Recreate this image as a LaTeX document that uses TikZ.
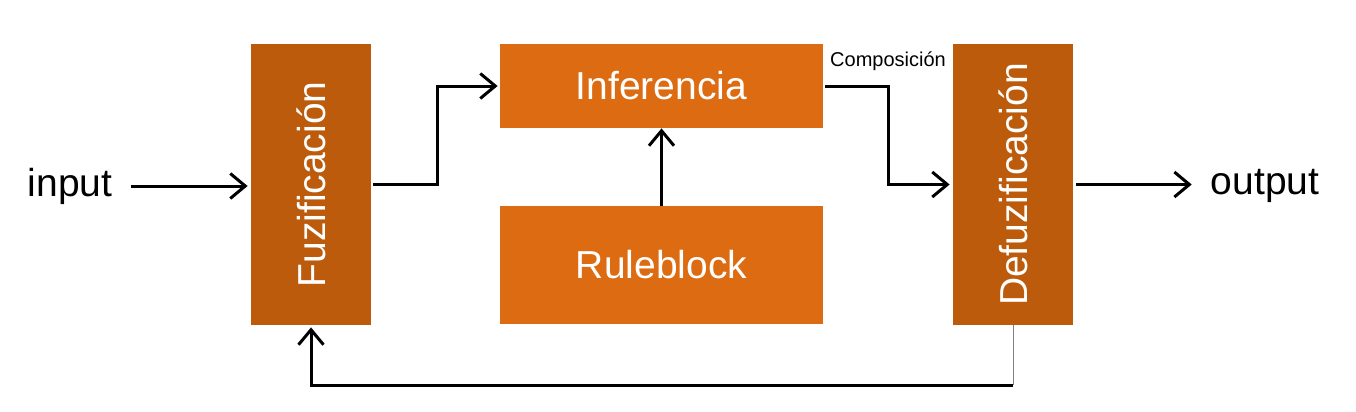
\documentclass[tikz,border=0pt]{standalone}
\usepackage{fontspec}
\setmainfont{Liberation Sans}
\usetikzlibrary{arrows.meta,positioning}
\definecolor{darkorange}{HTML}{BD5B0C}
\definecolor{lightorange}{HTML}{DD6B11}

\begin{document}
\begin{tikzpicture}[x=0.5pt,y=-0.5pt,>={Straight Barb[length=7.5pt,width=12.5pt]},
                    flow/.style={->,line width=1.5pt,black},
                    tallbox/.style={fill=darkorange,text=white,minimum width=60pt,minimum height=140.5pt,inner sep=0pt,font=\fontsize{19.5}{23}\selectfont},
                    widebox/.style={fill=lightorange,text=white,minimum width=161.5pt,inner sep=0pt,font=\fontsize{19.5}{23}\selectfont},
                    plain/.style={font=\fontsize{19.5}{23}\selectfont}]
	\useasboundingbox (0,0) rectangle (1356,412);
	\node[tallbox]			(fuz)	at (311,184.5)	{\rotatebox{90}{Fuzificación}};
	\node[widebox,minimum height=42pt]	(inf)	at (661.5,86)	{Inferencia};
	\node[widebox,minimum height=59pt]	(rule)	at (661.5,265)	{Ruleblock};
	\node[tallbox]			(defuz)	at (1013,184.5)	{\rotatebox{90}{Defuzificación}};
	\node[plain]			(in)	at (70,186)		{input};
	\node[plain]			(out)	at (1265,186)	{output};
	\node[font=\fontsize{10}{12}\selectfont]	(comp)	at (888,61)	{Composición};
	\draw[flow,shorten <=6pt,shorten >=1.5pt]	(in.east)	--	(in.east -| fuz.west);
	\draw[flow,shorten <=1pt,shorten >=1pt]		(fuz.east)	-- ++(66,0)	|-	(inf.west);
	\draw[flow,shorten <=1pt,shorten >=1.5pt]	(inf.east)	-- ++(65,0)	|-	(defuz.west);
	\draw[flow]		(rule.north)	--	(inf.south);
	\draw[flow,shorten <=1.5pt,shorten >=6pt]	(defuz.east)	--	(defuz.east -| out.west);
	\draw[gray,thin]	(defuz.south)	-- ++(0,60)	coordinate (fb);
	\draw[flow,shorten >=1pt]	(fb)	-|	(fuz.south);
\end{tikzpicture}
\end{document}
